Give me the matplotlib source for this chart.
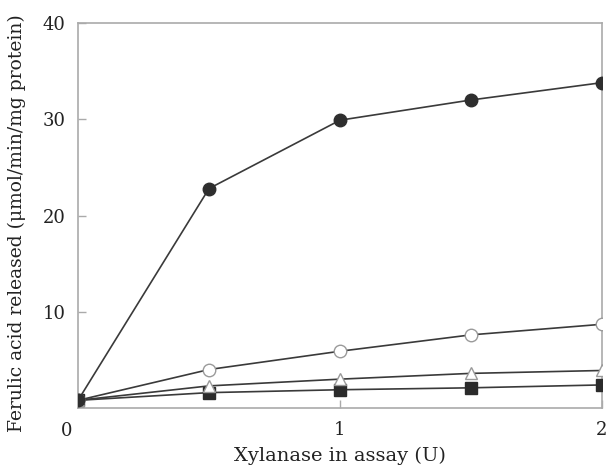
import matplotlib
matplotlib.use("Agg")
import matplotlib.pyplot as plt

x = [0, 0.5, 1.0, 1.5, 2.0]
filled_circle = [0.8, 22.8, 29.9, 32.0, 33.8]
open_circle = [0.8, 4.0, 5.9, 7.6, 8.7]
open_triangle = [0.8, 2.3, 3.0, 3.6, 3.9]
filled_square = [0.8, 1.6, 1.9, 2.1, 2.4]

plt.rcParams['font.family'] = ['DejaVu Serif']
fig = plt.figure(figsize=(6.12, 4.69), dpi=100)
ax = fig.add_axes([0.1275, 0.130, 0.856, 0.821])

line_c = '#3a3a3a'
edge_c = '#9a9a9a'
ax.plot(x, filled_square, color=line_c, lw=1.2, marker='s', ms=8,
        mfc='#2b2b2b', mec='#2b2b2b', zorder=3)
ax.plot(x, open_triangle, color=line_c, lw=1.2, marker='^', ms=8.5,
        mfc='white', mec=edge_c, zorder=4)
ax.plot(x, open_circle, color=line_c, lw=1.2, marker='o', ms=9,
        mfc='white', mec=edge_c, zorder=5)
ax.plot(x, filled_circle, color=line_c, lw=1.2, marker='o', ms=9,
        mfc='#2e2e2e', mec='#2e2e2e', zorder=6)

ax.set_xlim(0, 2)
ax.set_ylim(0, 40)
ax.set_xticks([1, 2])
ax.set_xticklabels(['1', '2'])
ax.set_yticks([10, 20, 30, 40])
ax.set_yticklabels(['10', '20', '30', '40'])
ax.tick_params(direction='in', length=6, width=1, color='#aaaaaa',
               labelsize=13, labelcolor='#222222', pad=9)
for s in ax.spines.values():
    s.set_color('#aaaaaa')
    s.set_linewidth(1.2)
ax.text(-0.045, -2.4, '0', ha='center', va='center', fontsize=13, color='#222222')
ax.set_xlabel('Xylanase in assay (U)', fontsize=14, color='#222222', labelpad=6)
ax.set_ylabel('Ferulic acid released (\u03bcmol/min/mg protein)', fontsize=13.5,
              color='#222222')
ax.yaxis.set_label_coords(-0.1, 0.48)

fig.savefig('out.png', dpi=100)
